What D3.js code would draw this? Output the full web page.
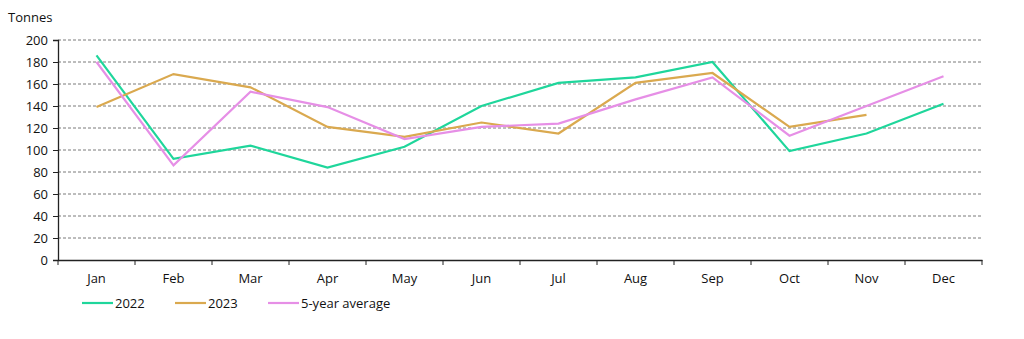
<!DOCTYPE html>
<html><head><meta charset="utf-8">
<script src="https://cdn.jsdelivr.net/npm/d3@7"></script>
<style>
body{margin:0;background:#fff;}
text{font-family:"Open Sans","Noto Sans",sans-serif;fill:#111;}
</style></head>
<body><svg id="c" width="1024" height="339"></svg>
<script>
const months = ["Jan","Feb","Mar","Apr","May","Jun","Jul","Aug","Sep","Oct","Nov","Dec"];
const s2022 = [186,92,104,84,103,140,161,166,180,99,115,142];
const s2023 = [139,169,157,121,112,125,115,161,170,121,132];
const sAvg  = [180,86,153,139,110,121,124,146,166,113,140,167];
const yTicks = [0,20,40,60,80,100,120,140,160,180,200];
const seriesNames = ["2022","2023","5-year average"];
const colors = ["#1fd69b","#daa94f","#e68fe6"];

const svg = d3.select("#c");
const pL=58, pR=982, pT=40, pB=260;
const x = d3.scaleBand().domain(months).range([pL,pR]);
const y = d3.scaleLinear().domain([0,200]).range([pB,pT]);

// gridlines
svg.append("g").selectAll("line").data(yTicks.filter(d=>d>0)).join("line")
  .attr("x1",pL).attr("x2",pR).attr("y1",d=>y(d)).attr("y2",d=>y(d))
  .attr("stroke","#7a7a7a").attr("stroke-width",1).attr("stroke-dasharray","3,2");

// y axis
const ya = svg.append("g").attr("transform",`translate(${pL},0)`)
  .call(d3.axisLeft(y).tickValues(yTicks).tickSize(5).tickPadding(5));
ya.select(".domain").attr("stroke","#222").attr("stroke-width",1.3);
ya.selectAll(".tick line").attr("stroke","#222");
ya.selectAll("text").attr("font-size",13).style("font-family","'Open Sans',sans-serif").attr("fill","#111");

// x axis
const xa = svg.append("g").attr("transform",`translate(0,${pB})`)
  .call(d3.axisBottom(x).tickSize(0).tickPadding(14));
xa.select(".domain").attr("stroke","#222").attr("stroke-width",1.3);
xa.selectAll("text").attr("font-size",13).style("font-family","'Open Sans',sans-serif").attr("fill","#111");
// boundary ticks
const bounds = months.map(m=>x(m)).concat([pR]);
svg.append("g").selectAll("line").data(bounds).join("line")
  .attr("x1",d=>d).attr("x2",d=>d).attr("y1",pB).attr("y2",pB+5)
  .attr("stroke","#222").attr("stroke-width",1);

svg.append("text").attr("x",8).attr("y",22).attr("font-size",13).text("Tonnes");

const cx = m => x(m)+x.bandwidth()/2;
const line = d3.line().x((d,i)=>cx(months[i])).y(d=>y(d));
[s2022,s2023,sAvg].forEach((s,k)=>{
  svg.append("path").datum(s).attr("d",line).attr("fill","none")
    .attr("stroke",colors[k]).attr("stroke-width",2.2).attr("stroke-linejoin","miter");
});

// legend
const lx = [82,175,268];
seriesNames.forEach((n,k)=>{
  svg.append("line").attr("x1",lx[k]).attr("x2",lx[k]+31).attr("y1",303).attr("y2",303)
    .attr("stroke",colors[k]).attr("stroke-width",2.2);
  svg.append("text").attr("x",lx[k]+33).attr("y",308).attr("font-size",13).text(n);
});
</script></body></html>
